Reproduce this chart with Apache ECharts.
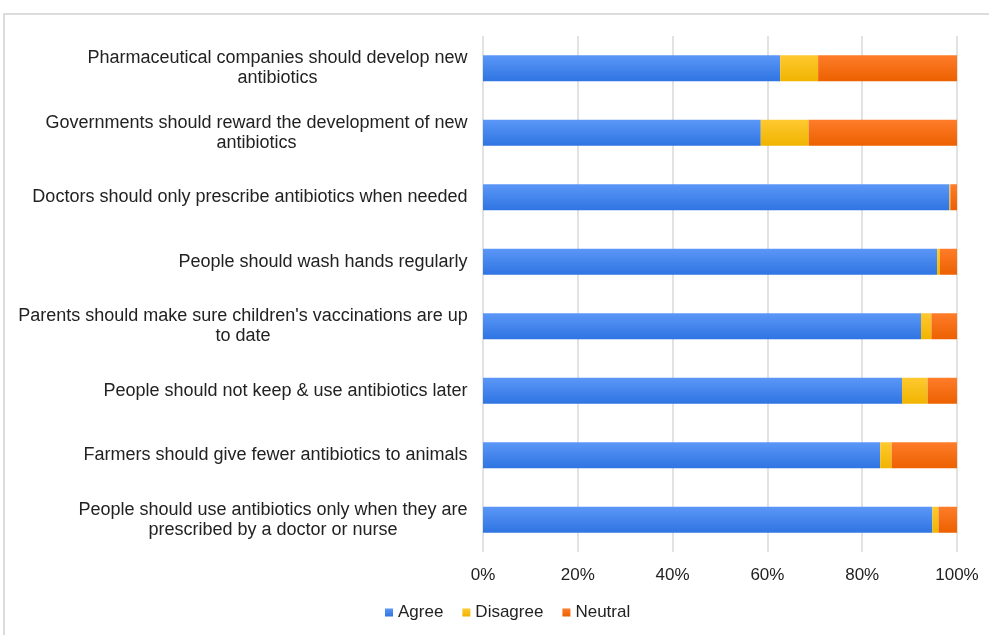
<!DOCTYPE html>
<html>
<head>
<meta charset="utf-8">
<script src="https://cdn.jsdelivr.net/npm/echarts@6/dist/echarts.min.js"></script>
<style>
  body { margin: 0; background: #fff; }
  #ch-main { position: absolute; left: 0; top: 0; width: 989px; height: 635px; }
  #frame { position: absolute; left: 3px; top: 13px; width: 1000px; height: 700px;
           border-top: 2px solid #dcdcdc; border-left: 2px solid #dcdcdc; pointer-events: none; }
</style>
</head>
<body>
<div id="ch-main"></div>
<div id="frame"></div>
<script>
// categories, top to bottom
var statements = [
    'Pharmaceutical companies should develop new\nantibiotics',
    'Governments should reward the development of new\nantibiotics',
    'Doctors should only prescribe antibiotics when needed',
    'People should wash hands regularly',
    'Parents should make sure children\'s vaccinations are up\nto date',
    'People should not keep & use antibiotics later',
    'Farmers should give fewer antibiotics to animals',
    'People should use antibiotics only when they are\nprescribed by a doctor or nurse'
];
// percentages
var agree    = [62.7, 58.6, 98.4, 95.8, 92.4, 88.4, 83.8, 94.8];
var disagree = [8.0, 10.1, 0.2, 0.6, 2.2, 5.4, 2.4, 1.3];
var neutral  = [29.3, 31.3, 1.4, 3.6, 5.4, 6.2, 13.8, 3.9];
var xTicks = [0, 20, 40, 60, 80, 100];

var font = 'Liberation Sans, Arial, sans-serif';
var labelSize = 18;

function grad(top, bottom) {
    return new echarts.graphic.LinearGradient(0, 0, 0, 1, [
        {offset: 0, color: top}, {offset: 1, color: bottom}
    ]);
}

// wrapped labels are centred line by line, so give every line the width of the longest one
var ctx = document.createElement('canvas').getContext('2d');
ctx.font = labelSize + 'px ' + font;
var rich = {};
statements.forEach(function (s, i) {
    var w = Math.max.apply(null, s.split('\n').map(function (l) { return ctx.measureText(l).width; }));
    rich['r' + i] = {width: Math.ceil(w), align: 'center', fontSize: labelSize, lineHeight: 20,
                     color: '#222', fontFamily: font};
});

var myChart = echarts.init(document.getElementById('ch-main'));

var option = {
    animation: false,
    textStyle: {fontFamily: font},
    color: ['#4285f4', '#fbbc04', '#ff6d01'],
    legend: {
        left: 380,
        top: 599,
        icon: 'rect',
        itemWidth: 8,
        itemHeight: 8,
        itemGap: 19,
        textStyle: {fontSize: 17, color: '#222', fontFamily: font}
    },
    grid: {left: 483, right: 32, top: 36, bottom: 83},
    xAxis: {
        type: 'value',
        min: xTicks[0],
        max: xTicks[xTicks.length - 1],
        interval: 20,
        axisLine: {show: false},
        axisTick: {show: false},
        axisLabel: {formatter: '{value}%', fontSize: 17, color: '#222', margin: 15, fontFamily: font},
        splitLine: {lineStyle: {color: '#d9d9d9', width: 1.5}}
    },
    yAxis: {
        type: 'category',
        inverse: true,
        data: statements,
        axisLine: {show: false},
        axisTick: {show: false},
        axisLabel: {
            margin: 15,
            align: 'right',
            fontSize: labelSize,
            lineHeight: 20,
            color: '#222',
            fontFamily: font,
            formatter: function (value, index) {
                return value.split('\n').map(function (l) { return '{r' + index + '|' + l + '}'; }).join('\n');
            },
            rich: rich
        }
    },
    series: [
        {name: 'Agree', type: 'bar', stack: 'all', barWidth: 26, data: agree,
         itemStyle: {color: grad('#5b97f7', '#2f74e2')}},
        {name: 'Disagree', type: 'bar', stack: 'all', barWidth: 26, data: disagree,
         itemStyle: {color: grad('#ffc930', '#f0b400')}},
        {name: 'Neutral', type: 'bar', stack: 'all', barWidth: 26, data: neutral,
         itemStyle: {color: grad('#ff7c2a', '#ec6100')}}
    ]
};

myChart.setOption(option);
</script>
</body>
</html>
